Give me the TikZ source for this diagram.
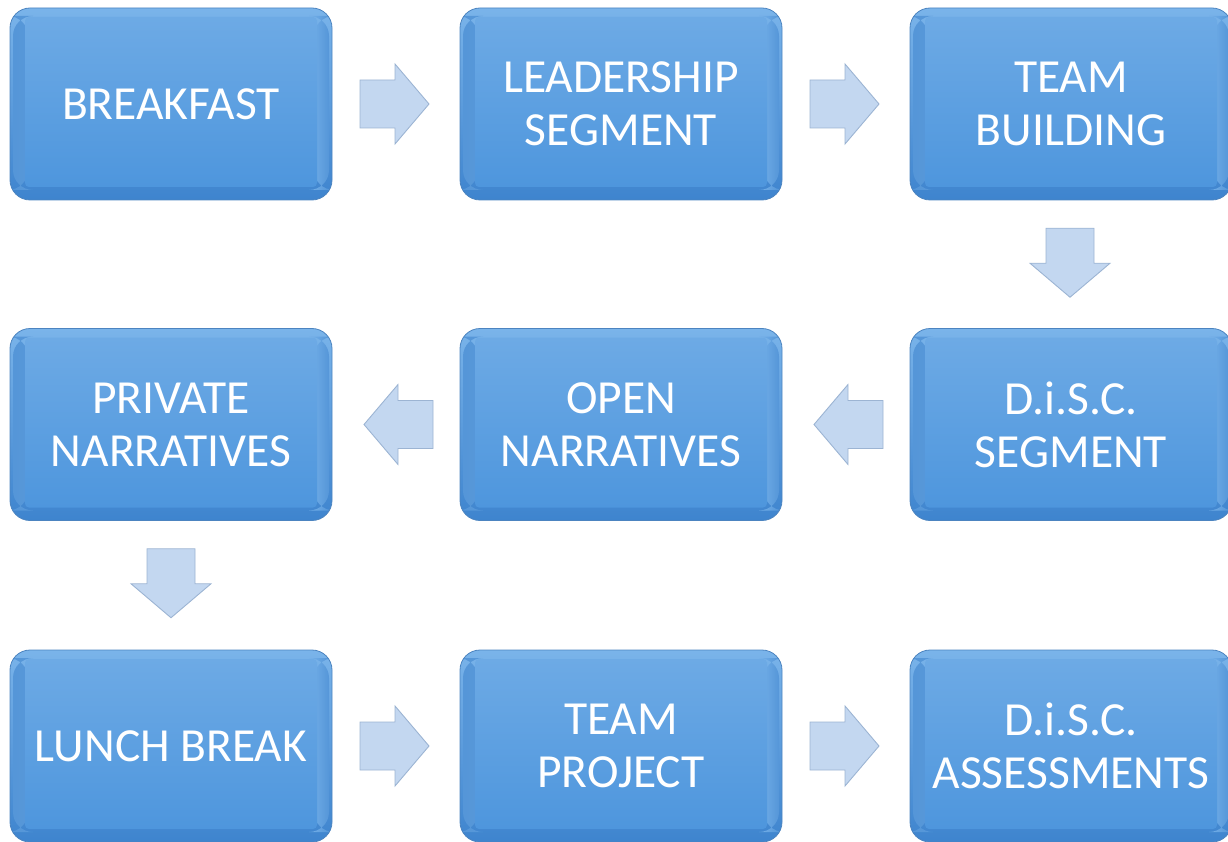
\documentclass[tikz,border=0pt]{standalone}
\usepackage{fontspec}
\newfontfamily\stagefont{Carlito}
\usetikzlibrary{calc}

\definecolor{boxTop}{HTML}{7AB4EA}
\definecolor{boxBot}{HTML}{3E84CE}
\definecolor{boxLine}{HTML}{4C84C0}
\definecolor{faceTop}{HTML}{6DAAE5}
\definecolor{faceBot}{HTML}{4E96DD}
\definecolor{stripLight}{HTML}{A8E2FA}
\definecolor{stripEdge}{HTML}{5596D8}
\definecolor{arrowFill}{HTML}{C3D7F0}
\definecolor{arrowLine}{HTML}{9CB4D3}

\tikzset{
  stage/.style={
    rectangle, rounded corners=20pt, minimum width=322pt, minimum height=192pt,
    inner sep=0pt, outer sep=0pt, draw=boxLine, line width=0.8pt,
    top color=boxTop, bottom color=boxBot,
    text=white, align=center,
    font=\stagefont\fontsize{47.5}{53}\selectfont,
    path picture={
      % light bevel strips on the left and right sides
      \shade[left color=stripEdge, middle color=stripLight, right color=faceTop]
        ($(path picture bounding box.north west)+(3pt,-8pt)$) rectangle
        ($(path picture bounding box.south west)+(18pt,10pt)$);
      \shade[left color=faceTop, middle color=stripLight!80!faceTop, right color=stripEdge]
        ($(path picture bounding box.north east)+(-18pt,-8pt)$) rectangle
        ($(path picture bounding box.south east)+(-3pt,10pt)$);
      % raised face
      \shade[top color=faceTop, bottom color=faceBot, rounded corners=4pt]
        ($(path picture bounding box.north west)+(15pt,-9pt)$) rectangle
        ($(path picture bounding box.south east)+(-15pt,13pt)$);
    }
  },
  flowarrow/.style={fill=arrowFill, draw=arrowLine, line width=0.9pt, line join=miter}
}

% block arrow centred on #1, turned by #2 degrees
\newcommand\blockarrow[2]{%
  \draw[flowarrow, shift={#1}, rotate=#2]
    (-34.5,-24) -- (0.5,-24) -- (0.5,-40) -- (34.5,0) -- (0.5,40)
    -- (0.5,24) -- (-34.5,24) -- cycle;}

\begin{document}
\begin{tikzpicture}[x=1pt,y=-1pt]
  \useasboundingbox (0,0) rectangle (1228,842);
  \clip (0,0) rectangle (1228,842);

  % row 1
  \node[stage] (b1) at (171,104) {BREAKFAST};
  \node[stage] (b2) at (621,104) {LEADERSHIP\\SEGMENT};
  \node[stage] (b3) at (1071,104) {TEAM\\BUILDING};
  % row 2
  \node[stage] (b4) at (1071,424.5) {D.i.S.C.\\SEGMENT};
  \node[stage] (b5) at (621,424.5) {OPEN\\NARRATIVES};
  \node[stage] (b6) at (171,424.5) {PRIVATE\\NARRATIVES};
  % row 3
  \node[stage] (b7) at (171,746) {LUNCH BREAK};
  \node[stage] (b8) at (621,746) {TEAM\\PROJECT};
  \node[stage] (b9) at (1071,746) {D.i.S.C.\\ASSESSMENTS};

  % flow arrows
  \blockarrow{($(b1.east)!0.5!(b2.west)+(-1.5,0)$)}{0}
  \blockarrow{($(b2.east)!0.5!(b3.west)+(-1.5,0)$)}{0}
  \blockarrow{($(b3.south)!0.5!(b4.north)+(-1,-1.5)$)}{-90}
  \blockarrow{($(b4.west)!0.5!(b5.east)+(2.5,0)$)}{180}
  \blockarrow{($(b5.west)!0.5!(b6.east)+(2.5,0)$)}{180}
  \blockarrow{($(b6.south)!0.5!(b7.north)+(0,-2)$)}{-90}
  \blockarrow{($(b7.east)!0.5!(b8.west)+(-1.5,0)$)}{0}
  \blockarrow{($(b8.east)!0.5!(b9.west)+(-1.5,0)$)}{0}
\end{tikzpicture}
\end{document}
